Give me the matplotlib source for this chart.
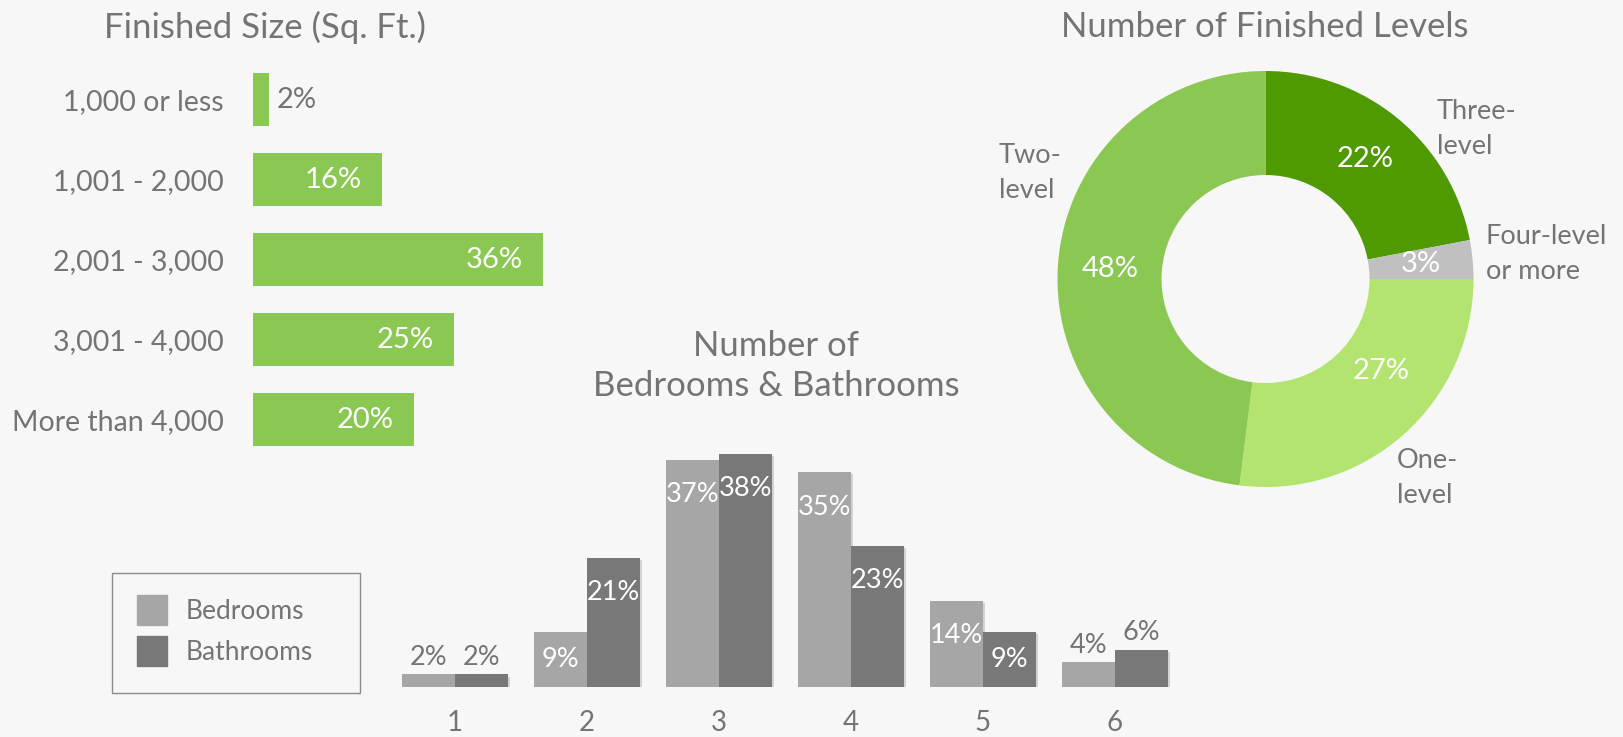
"""Home survey dashboard: finished size, finished levels, bedrooms & bathrooms."""
import matplotlib
matplotlib.use("Agg")
import matplotlib.pyplot as plt
import matplotlib.patheffects as pe
from matplotlib.patches import Rectangle, Patch

# --- data -----------------------------------------------------------------
size_labels = ["1,000 or less", "1,001 - 2,000", "2,001 - 3,000",
               "3,001 - 4,000", "More than 4,000"]
size_pct = [2, 16, 36, 25, 20]

level_names = ["Three-\nlevel", "Four-level\nor more", "One-\nlevel", "Two-\nlevel"]
level_pct = [22, 3, 27, 48]

room_counts = ["1", "2", "3", "4", "5", "6"]
bedrooms = [2, 9, 37, 35, 14, 4]
bathrooms = [2, 21, 38, 23, 9, 6]

# --- style ----------------------------------------------------------------
W, H = 1623, 737
BG = "#f7f7f7"
TXT = "#747474"
GREEN = "#8bc853"
level_colors = ["#4e9a00", "#c0c0c0", "#b3e46f", "#8bc853"]
BED, BATH = "#a6a6a6", "#787878"

plt.rcParams["font.family"] = ["Lato", "DejaVu Sans"]

fig = plt.figure(figsize=(W / 100, H / 100), dpi=100, facecolor=BG)


def px_axes(left, top, right, bottom):
    ax = fig.add_axes([left / W, 1 - bottom / H, (right - left) / W, (bottom - top) / H])
    ax.set_facecolor("none")
    return ax


def fig_text(x, y, s, **kw):
    fig.text(x / W, 1 - y / H, s, **kw)


# --- finished size (horizontal bars) --------------------------------------
ax1 = px_axes(253, 59.5, 542.5, 459.5)
ypos = range(len(size_pct))
ax1.barh(ypos, size_pct, height=0.66, color=GREEN)
ax1.set_xlim(0, 36)
ax1.set_ylim(4.5, -0.5)
for y, v in zip(ypos, size_pct):
    if v < 5:
        ax1.text(v + 0.9, y, f"{v}%", ha="left", va="center", fontsize=21, color=TXT)
    else:
        ax1.text(v - 2.5, y, f"{v}%", ha="right", va="center", fontsize=21, color="white")
ax1.set_yticks(list(ypos), size_labels, fontsize=20.5, color=TXT)
ax1.set_xticks([])
ax1.tick_params(axis="y", length=0, pad=21)
for s in ax1.spines.values():
    s.set_visible(False)
fig_text(265, 27, "Finished Size (Sq. Ft.)", ha="center", va="center", fontsize=25, color=TXT)

# --- finished levels (donut) ----------------------------------------------
R = 208
cx, cy = 1265.5, 279
ax2 = px_axes(cx - R, cy - R, cx + R, cy + R)
wedges, _, autotexts = ax2.pie(level_pct, colors=level_colors, startangle=90,
                               counterclock=False, radius=1,
                               autopct=lambda p: f"{p:.0f}%", pctdistance=0.75,
                               wedgeprops=dict(width=0.5, linewidth=0),
                               textprops=dict(color="white", fontsize=21))
autotexts[2].set_position((0.555, -0.44))
ax2.set_xlim(-1, 1)
ax2.set_ylim(-1, 1)
ax2.axis("off")
# outside label anchors (left edge, middle), in radius units
label_at = [(0.825, 0.72), (1.058, 0.12), (0.632, -0.955), (-1.281, 0.51)]
for name, (lx, ly) in zip(level_names, label_at):
    ax2.text(lx, ly, name, ha="left", va="center", fontsize=19.5, color=TXT,
             linespacing=1.5, clip_on=False)
fig_text(1265, 27, "Number of Finished Levels", ha="center", va="center", fontsize=25, color=TXT)

# --- bedrooms & bathrooms (grouped bars) ----------------------------------
ax3 = px_axes(389, 441.5, 1181, 686.7)
xs = list(range(len(room_counts)))
shadow = [pe.SimplePatchShadow(offset=(1.5, -1.5), shadow_rgbFace="black", alpha=0.15), pe.Normal()]
b1 = ax3.bar([x - 0.2 for x in xs], bedrooms, width=0.4, color=BED, path_effects=shadow)
b2 = ax3.bar([x + 0.2 for x in xs], bathrooms, width=0.4, color=BATH, path_effects=shadow)
for bars, vals in ((b1, bedrooms), (b2, bathrooms)):
    for bar, v in zip(bars, vals):
        xc = bar.get_x() + bar.get_width() / 2
        if v < 9:
            ax3.text(xc, v + 2.8, f"{v}%", ha="center", va="center", fontsize=19.5, color=TXT)
        else:
            ax3.text(xc, max(v - 5.7, v / 2), f"{v}%", ha="center", va="center",
                     fontsize=19.5, color="white")
ax3.set_xlim(-0.5, 5.5)
ax3.set_ylim(0, 40)
ax3.set_xticks(xs, room_counts, fontsize=20, color=TXT)
ax3.set_yticks([])
ax3.tick_params(axis="x", length=0, pad=17)
for s in ax3.spines.values():
    s.set_visible(False)
fig_text(776, 366, "Number of\nBedrooms & Bathrooms", ha="center", va="center",
         fontsize=25, color=TXT, linespacing=1.32)

# legend with a plain square frame
fig.patches.append(Rectangle((112 / W, 1 - 693 / H), 248 / W, 120 / H, transform=fig.transFigure,
                             facecolor="none", edgecolor="#8a8a8a", linewidth=1))
fig.legend([Patch(color=BED), Patch(color=BATH)], ["Bedrooms", "Bathrooms"], loc="upper left",
           bbox_to_anchor=(137 / W, 1 - 595 / H), frameon=False, fontsize=19,
           labelcolor=TXT, handlelength=1.14, handleheight=1.35, borderpad=0,
           borderaxespad=0, handletextpad=0.7, labelspacing=0.45)

fig.savefig("out.png", dpi=100, facecolor=BG)
